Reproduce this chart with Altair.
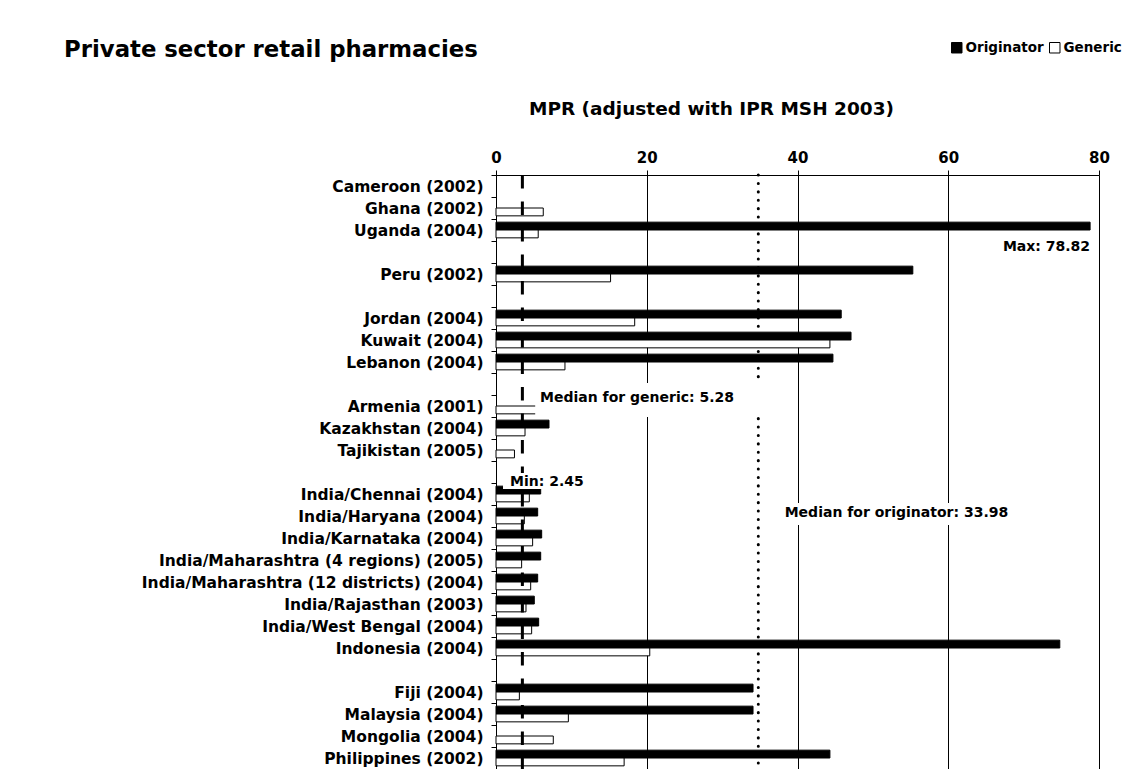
import altair as alt
import pandas as pd

FONT = "DejaVu Sans"

categories = [
    "Cameroon (2002)", "Ghana (2002)", "Uganda (2004)", " ",
    "Peru (2002)", "  ",
    "Jordan (2004)", "Kuwait (2004)", "Lebanon (2004)", "   ",
    "Armenia (2001)", "Kazakhstan (2004)", "Tajikistan (2005)", "    ",
    "India/Chennai (2004)", "India/Haryana (2004)", "India/Karnataka (2004)",
    "India/Maharashtra (4 regions) (2005)", "India/Maharashtra (12 districts) (2004)",
    "India/Rajasthan (2003)", "India/West Bengal (2004)", "Indonesia (2004)", "     ",
    "Fiji (2004)", "Malaysia (2004)", "Mongolia (2004)", "Philippines (2002)",
]
originator = [None, None, 78.82, None,
              55.3, None,
              45.8, 47.1, 44.7, None,
              None, 7.03, None, None,
              5.93, 5.53, 6.06, 5.93, 5.53, 5.08, 5.66, 74.8, None,
              34.1, 34.1, None, 44.3]
generic = [None, 6.27, 5.6, None,
           15.2, None,
           18.4, 44.3, 9.15, None,
           5.6, 3.85, 2.45, None,
           4.42, 3.76, 4.86, 3.4, 4.6, 3.98, 4.73, 20.4, None,
           3.1, 9.6, 7.6, 17.0]
series = ["Originator", "Generic"]
x_ticks = [0, 20, 40, 60, 80]
median_generic_line = [3.5]
median_originator_line = [34.8]

# annotation texts (anchored on the data scales)
ann_text = ["Max: 78.82", "Median for generic: 5.28", "Min: 2.45", "Median for originator: 33.98"]
ann_value = [78.82, 5.84, 1.86, 38.3]
ann_row = [" ", "Armenia (2001)", "    ", "India/Haryana (2004)"]
ann_align = ["right", "left", "left", "left"]
ann_dy = [-5, -8, 10, -3]

# white boxes behind some annotation texts
box_start = [5.2, 0.93, 37.2]
box_end = [35.7, 12.0, 70.0]
box_row = ["Armenia (2001)", "    ", "India/Haryana (2004)"]
box_h = [34, 16, 22]
box_dy = [-6, 9, -2]

rows = []
for c, o, g in zip(categories, originator, generic):
    if o is not None:
        rows.append({"country": c, "type": "Originator", "mpr": o})
    if g is not None:
        rows.append({"country": c, "type": "Generic", "mpr": g})
df = pd.DataFrame(rows)

x_scale = alt.Scale(domain=[0, 80], nice=False)
y_scale = alt.Scale(domain=categories, paddingInner=0, paddingOuter=0)

x_axis = alt.Axis(
    orient="top", values=x_ticks, labelFont=FONT, labelFontWeight="bold", labelFontSize=15,
    labelColor="black", labelFlush=False, labelPadding=5, tickColor="black", tickSize=5,
    domainColor="black", gridColor="black", gridWidth=1, gridOpacity=1,
    title="MPR (adjusted with IPR MSH 2003)", titleFont=FONT, titleFontSize=18.5,
    titleFontWeight="bold", titleColor="black", titleX=215, titleY=-67,
    titleAlign="center", titleBaseline="middle",
)
y_axis = alt.Axis(
    labelFont=FONT, labelFontWeight="bold", labelFontSize=15.5, labelColor="black",
    labelLimit=0, labelPadding=8, tickColor="black", tickSize=5, tickBand="extent",
    domainColor="black", grid=False, title=None,
)

bars = alt.Chart(df).mark_bar(stroke="black", strokeWidth=1).encode(
    x=alt.X("mpr:Q", scale=x_scale, axis=x_axis),
    y=alt.Y("country:N", scale=y_scale, axis=y_axis),
    yOffset=alt.YOffset("type:N", scale=alt.Scale(domain=series, paddingOuter=0.4, paddingInner=0)),
    fill=alt.Fill("type:N", scale=alt.Scale(domain=series, range=["black", "white"]),
                  legend=alt.Legend(
                      orient="none", legendX=454, legendY=-134, direction="horizontal",
                      title=None, labelFont=FONT, labelFontWeight="bold", labelFontSize=13.5,
                      labelColor="black", symbolType="square", symbolSize=110,
                      symbolStrokeColor="black", symbolStrokeWidth=1, columnPadding=3,
                      labelOffset=2)),
)

dotted = alt.Chart(pd.DataFrame({"mpr": median_originator_line})).mark_rule(
    color="black", strokeWidth=3, strokeDash=[0.1, 8.3], strokeCap="round"
).encode(x=alt.X("mpr:Q", scale=x_scale))

dashed = alt.Chart(pd.DataFrame({"mpr": median_generic_line})).mark_rule(
    color="black", strokeWidth=3, strokeDash=[13.5, 13]
).encode(x=alt.X("mpr:Q", scale=x_scale))

box_df = pd.DataFrame({"mpr": box_start, "mpr2": box_end, "country": box_row})
boxes = []
for i in range(len(box_start)):
    boxes.append(
        alt.Chart(box_df.iloc[[i]]).mark_bar(
            color="white", height=box_h[i], yOffset=box_dy[i]
        ).encode(
            x=alt.X("mpr:Q", scale=x_scale),
            x2="mpr2:Q",
            y=alt.Y("country:N", scale=y_scale),
        )
    )

ann_df = pd.DataFrame({"label": ann_text, "mpr": ann_value, "country": ann_row})
texts = []
for i in range(len(ann_text)):
    texts.append(
        alt.Chart(ann_df.iloc[[i]]).mark_text(
            align=ann_align[i], baseline="middle", dy=ann_dy[i], font=FONT, fontWeight="bold",
            fontSize=14, color="black"
        ).encode(
            x=alt.X("mpr:Q", scale=x_scale),
            y=alt.Y("country:N", scale=y_scale),
            text="label:N",
        )
    )

chart = alt.layer(dotted, bars, dashed, *boxes, *texts).properties(
    width=603, height=594,
    autosize=alt.AutoSizeParams(type="none"),
    padding={"left": 488, "top": 167, "right": 31, "bottom": 0},
    title=alt.TitleParams(
        "Private sector retail pharmacies", anchor="start", frame="group", dx=-432,
        font=FONT, fontSize=22.8, fontWeight="bold", color="black", offset=-32,
        baseline="middle",
    ),
).configure_view(stroke=None)

chart.save("out.html", embed_options={"renderer": "svg", "actions": False})
